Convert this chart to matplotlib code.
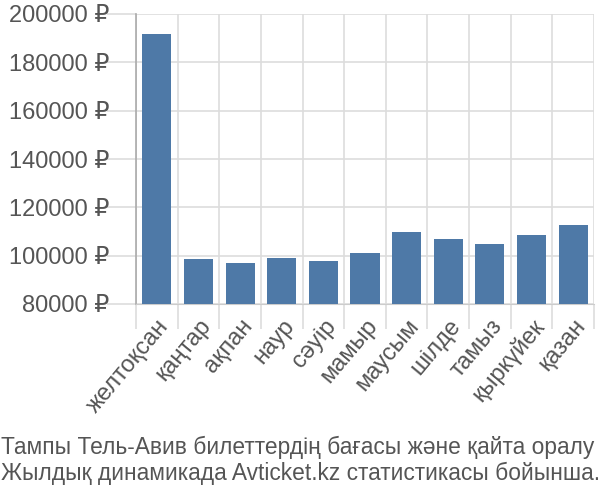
import matplotlib
matplotlib.use("Agg")
import matplotlib.pyplot as plt

plt.rcParams['font.family'] = ['Liberation Sans', 'DejaVu Sans']

months = ["желтоқсан", "қаңтар", "ақпан", "наур", "сәуір", "мамыр",
          "маусым", "шілде", "тамыз", "қыркүйек", "қазан"]
prices = [191800, 98800, 97100, 99200, 97800, 101200,
          109900, 107000, 104800, 108400, 112800]
yticks = [80000, 100000, 120000, 140000, 160000, 180000, 200000]
caption = ("Тампы Тель-Авив билеттердің бағасы және қайта оралу\n"
           "Жылдық динамикада Avticket.kz статистикасы бойынша.")

W, H = 600, 500
fig = plt.figure(figsize=(6, 5), dpi=100)
ax = fig.add_axes([136 / W, 1 - 304 / H, (594 - 136) / W, (304 - 14) / H])

x = range(len(months))
ax.bar(x, prices, width=0.7, color="#4e79a7", zorder=3)

ax.set_xlim(-0.5, len(months) - 0.5)
ax.set_ylim(80000, 200000)
ax.set_yticks(yticks)
ax.set_yticklabels([f"{v} ₽" for v in yticks])
ax.set_xticks([i + 0.5 for i in range(-1, len(months))], minor=False)
ax.set_xticklabels([""] * (len(months) + 1))
ax.set_xticks(list(x), minor=True)
ax.set_xticklabels(months, minor=True, rotation=50, ha="right",
                   rotation_mode="anchor")

ax.grid(True, which="major", color="#dddddd", linewidth=1.2, zorder=0)
ax.tick_params(axis="x", which="major", length=18, color="#dddddd", width=1.2)
ax.tick_params(axis="x", which="minor", length=0, pad=8,
               labelsize=17, labelcolor="#555555")
ax.tick_params(axis="y", length=21, color="#dddddd", width=1.2,
               labelsize=17, labelcolor="#555555", pad=-2)

for s in ["top", "right"]:
    ax.spines[s].set_visible(False)
ax.spines["left"].set_color("#aaaaaa")
ax.spines["bottom"].set_color("#cccccc")
ax.spines["left"].set_linewidth(1.2)

fig.text(1 / W, 1 - 460 / H, caption, fontsize=16.4, color="#555555",
         va="center", ha="left", linespacing=1.15)

fig.savefig("out.png", dpi=100)
